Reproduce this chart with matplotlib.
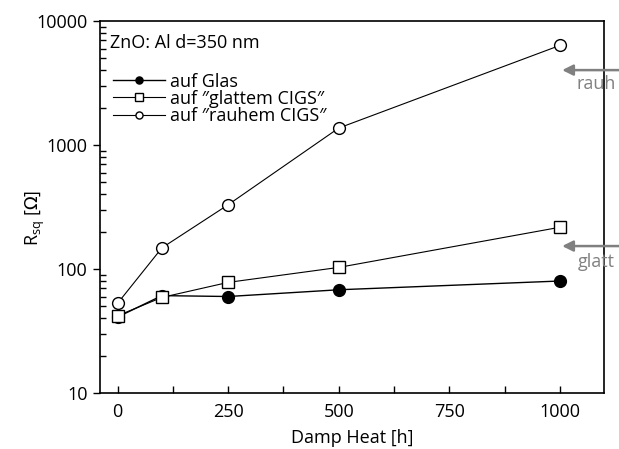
import numpy as np
import matplotlib.pyplot as plt
from matplotlib.ticker import FixedLocator, NullFormatter

plt.rcParams['font.family'] = ['Open Sans', 'DejaVu Sans']

hours = [0, 100, 250, 500, 1000]
glas = [41, 61, 60, 68, 80]
glatt = [42, 59, 78, 103, 217]
rauh = [53, 148, 330, 1370, 6350]

fs = 13

fig = plt.figure(figsize=(6.19, 4.49), dpi=100)
ax = fig.add_axes([100 / 619, 1 - 393 / 449, 504 / 619, 372 / 449])

ax.plot(hours, glas, '-o', color='black', lw=1, ms=8.5, mfc='black', label='auf Glas')
ax.plot(hours, glatt, '-s', color='black', lw=0.8, ms=8.5, mfc='white', label='auf \u2033glattem CIGS\u2033')
ax.plot(hours, rauh, '-o', color='black', lw=0.8, ms=8.5, mfc='white', label='auf \u2033rauhem CIGS\u2033')

ax.set_yscale('log')
ax.set_ylim(10, 10000)
ax.set_xlim(-40, 1100)
ax.set_xticks([0, 250, 500, 750, 1000])
ax.xaxis.set_minor_locator(FixedLocator([125, 375, 625, 875]))
ax.set_yticks([10, 100, 1000, 10000])
ax.set_yticklabels(['10', '100', '1000', '10000'])
ax.yaxis.set_minor_formatter(NullFormatter())

ax.tick_params(axis='x', which='both', direction='in', length=5, width=1, labelsize=fs, pad=7)
ax.tick_params(axis='y', which='major', direction='out', length=5, width=1, labelsize=fs, pad=4)
ax.tick_params(axis='y', which='minor', direction='in', length=4, width=1)
ax.tick_params(top=False, right=False)
for s in ax.spines.values():
    s.set_linewidth(1.2)

ax.set_xlabel('Damp Heat [h]', fontsize=fs, labelpad=6)
ax.set_ylabel(r'R$_{\mathregular{sq}}$ [$\Omega$]', fontsize=fs)
ax.yaxis.set_label_coords(-0.105, 0.47)

ax.text(0.02, 0.94, 'ZnO: Al d=350 nm', transform=ax.transAxes, fontsize=fs, va='center')
leg = ax.legend(loc='upper left', bbox_to_anchor=(0.0, 0.895), frameon=False, fontsize=fs,
                handlelength=2.9, handletextpad=0.25, labelspacing=-0.05, borderaxespad=0.3,
                markerscale=0.6)

gray = '#808080'
arrows = [(0.868, 0.984, 0.830, 'rauh'), (0.395, 0.984, 0.352, 'glatt')]
for ya, xt, yt, lab in arrows:
    ax.annotate('', xy=(0.917, ya), xytext=(1.03, ya), xycoords='axes fraction',
                annotation_clip=False,
                arrowprops=dict(arrowstyle='-|>', color=gray, lw=1.8, mutation_scale=16,
                                shrinkA=0, shrinkB=0))
    ax.text(xt, yt, lab, transform=ax.transAxes, color=gray, fontsize=fs,
            ha='center', va='center', clip_on=False)

plt.savefig('out.png', dpi=100)
